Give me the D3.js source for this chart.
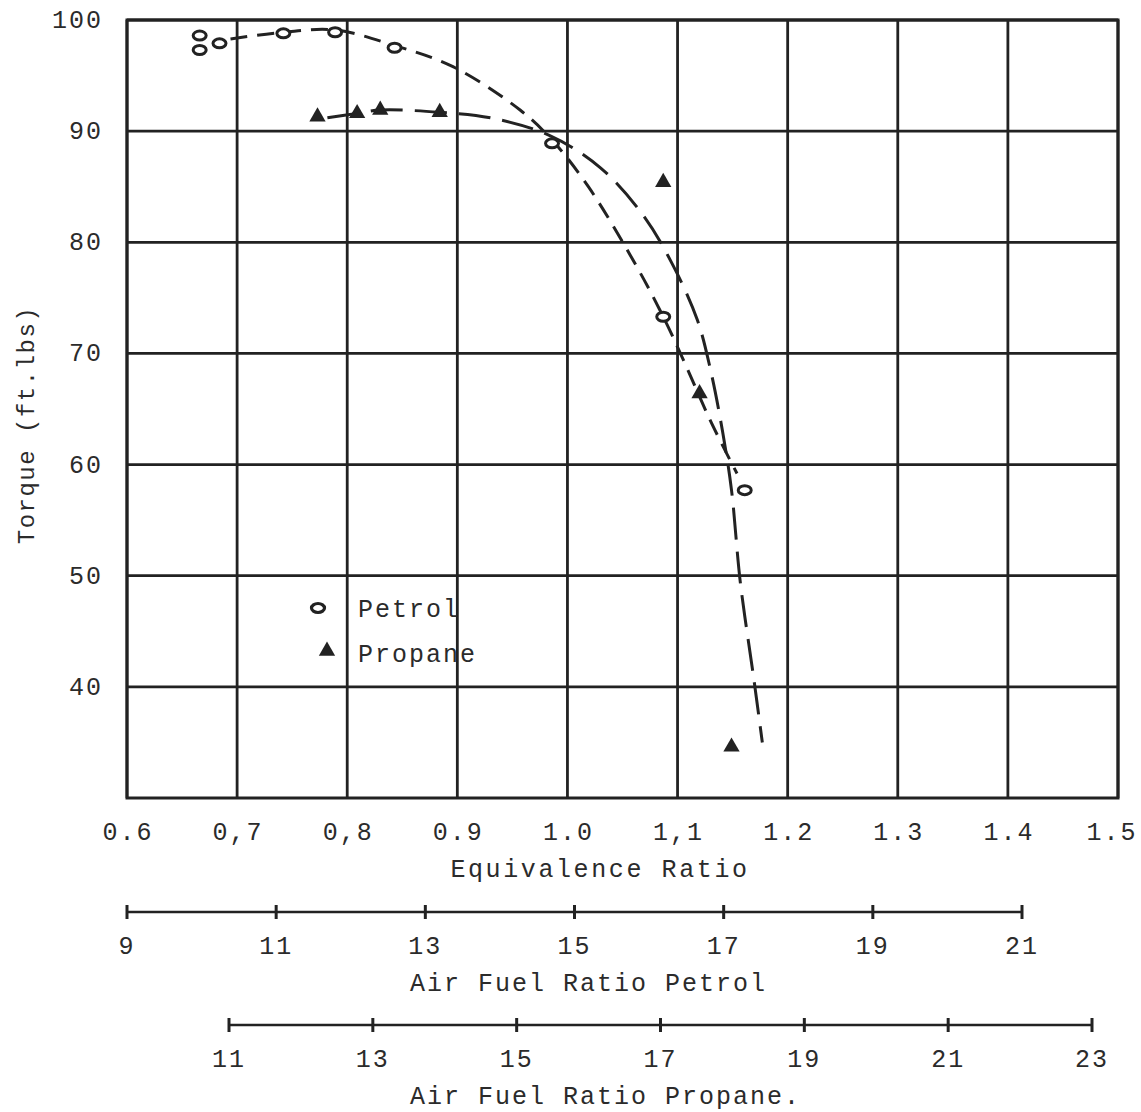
<!DOCTYPE html>
<html>
<head>
<meta charset="utf-8">
<script src="https://cdn.jsdelivr.net/npm/d3@7"></script>
<style>
	body { margin: 0; background: #fff; }
	svg text { font-family: "Liberation Mono", "DejaVu Sans Mono", monospace; fill: #2b2b2b; }
</style>
</head>
<body>
<svg id="chart" width="1141" height="1112"></svg>
<script>
// x ticks and labels (labels kept as typed on the original sheet)
var xTicks = [0.6, 0.7, 0.8, 0.9, 1.0, 1.1, 1.2, 1.3, 1.4, 1.5];
var xTickLabels = ["0.6", "0,7", "0,8", "0.9", "1.0", "1,1", "1.2", "1.3", "1.4", "1.5"];
var yTicks = [40, 50, 60, 70, 80, 90, 100];

// measured points [equivalence ratio, torque]
var petrolPoints = [[0.666, 98.6], [0.666, 97.3], [0.684, 97.9], [0.742, 98.8], [0.789, 98.9],
	[0.843, 97.5], [0.986, 88.9], [1.087, 73.3], [1.161, 57.7]];
var propanePoints = [[0.773, 91.3], [0.809, 91.6], [0.830, 91.9], [0.884, 91.7],
	[1.087, 85.4], [1.120, 66.4], [1.149, 34.6]];

// hand drawn fitted curves
var petrolCurve = [[0.694, 98.3], [0.742, 98.9], [0.789, 99.1], [0.843, 97.7], [0.896, 95.8],
	[0.957, 91.9], [0.986, 89.2], [1.019, 85.0], [1.063, 77.8], [1.087, 73.3], [1.104, 69.7],
	[1.131, 63.7], [1.154, 59.2]];
var propaneCurve = [[0.782, 91.2], [0.809, 91.6], [0.830, 91.9], [0.884, 91.7], [0.930, 91.2],
	[0.984, 89.6], [1.030, 86.7], [1.069, 82.4], [1.096, 77.9], [1.118, 73.0], [1.130, 68.5],
	[1.141, 62.9], [1.149, 57.7], [1.157, 49.4], [1.169, 40.9], [1.177, 35.0]];

// secondary air fuel ratio scales
var afrPetrolTicks = [9, 11, 13, 15, 17, 19, 21];
var afrPropaneTicks = [11, 13, 15, 17, 19, 21, 23];

var ink = "#222";
var svg = d3.select("#chart");

var x = d3.scaleLinear().domain([0.6, 1.5]).range([127, 1118]);
var y = d3.scaleLinear().domain([30, 100]).range([798, 20]);

//grid lines
svg.append("g")
	.selectAll("line")
	.data(xTicks)
	.enter().append("line")
		.attr("x1", function(d){ return x(d); })
		.attr("x2", function(d){ return x(d); })
		.attr("y1", y(100))
		.attr("y2", y(30))
		.attr("stroke", ink)
		.attr("stroke-width", 2.8);

svg.append("g")
	.selectAll("line")
	.data(yTicks)
	.enter().append("line")
		.attr("x1", x(0.6))
		.attr("x2", x(1.5))
		.attr("y1", function(d){ return y(d); })
		.attr("y2", function(d){ return y(d); })
		.attr("stroke", ink)
		.attr("stroke-width", 2.8);

//frame
svg.append("rect")
	.attr("x", x(0.6))
	.attr("y", y(100))
	.attr("width", x(1.5) - x(0.6))
	.attr("height", y(30) - y(100))
	.attr("fill", "none")
	.attr("stroke", ink)
	.attr("stroke-width", 3);

//tick labels (last one pulled in so it stays on the page)
svg.append("g")
	.selectAll("text")
	.data(xTicks)
	.enter().append("text")
		.text(function(d, i){ return xTickLabels[i]; })
		.attr("x", function(d){ return Math.min(x(d) + 1, 1112); })
		.attr("y", 840)
		.attr("text-anchor", "middle")
		.attr("font-size", "25px")
		.attr("letter-spacing", "2px");

svg.append("g")
	.selectAll("text")
	.data(yTicks)
	.enter().append("text")
		.text(function(d){ return d; })
		.attr("x", 103)
		.attr("y", function(d){ return y(d) + 8; })
		.attr("text-anchor", "end")
		.attr("font-size", "25px")
		.attr("letter-spacing", "2px");

svg.append("text")
	.text("Torque (ft.lbs)")
	.attr("transform", "translate(34,425) rotate(-90)")
	.attr("text-anchor", "middle")
	.attr("font-size", "24px")
	.attr("letter-spacing", "1.5px");

svg.append("text")
	.text("Equivalence Ratio")
	.attr("x", 600)
	.attr("y", 877)
	.attr("text-anchor", "middle")
	.attr("font-size", "25px")
	.attr("letter-spacing", "2.6px");

//fitted curves
var line = d3.line()
	.x(function(d){ return x(d[0]); })
	.y(function(d){ return y(d[1]); })
	.curve(d3.curveCatmullRom);

svg.append("path")
	.datum(petrolCurve)
	.attr("d", line)
	.attr("fill", "none")
	.attr("stroke", ink)
	.attr("stroke-width", 3)
	.attr("stroke-dasharray", "17, 10");

svg.append("path")
	.datum(propaneCurve)
	.attr("d", line)
	.attr("fill", "none")
	.attr("stroke", ink)
	.attr("stroke-width", 3)
	.attr("stroke-dasharray", "32, 12");

//markers
svg.append("g")
	.selectAll("ellipse")
	.data(petrolPoints)
	.enter().append("ellipse")
		.attr("cx", function(d){ return x(d[0]); })
		.attr("cy", function(d){ return y(d[1]); })
		.attr("rx", 6.5)
		.attr("ry", 4.5)
		.attr("fill", "#fff")
		.attr("stroke", ink)
		.attr("stroke-width", 3);

var tri = d3.symbol().type(d3.symbolTriangle).size(115);
svg.append("g")
	.selectAll("path")
	.data(propanePoints)
	.enter().append("path")
		.attr("d", tri)
		.attr("transform", function(d){ return "translate(" + x(d[0]) + "," + y(d[1]) + ")"; })
		.attr("fill", ink);

//legend
svg.append("ellipse")
	.attr("cx", 318).attr("cy", 608)
	.attr("rx", 6.5).attr("ry", 4.5)
	.attr("fill", "#fff").attr("stroke", ink).attr("stroke-width", 3.2);
svg.append("path")
	.attr("d", tri)
	.attr("transform", "translate(327,651)")
	.attr("fill", ink);
svg.append("text").text("Petrol")
	.attr("x", 358).attr("y", 617)
	.attr("font-size", "25px").attr("letter-spacing", "2px");
svg.append("text").text("Propane")
	.attr("x", 358).attr("y", 662)
	.attr("font-size", "25px").attr("letter-spacing", "2px");

//air fuel ratio scales
var drawScale = function(ticks, x0, x1, lineY, title){
	var s = d3.scaleLinear().domain([ticks[0], ticks[ticks.length - 1]]).range([x0, x1]);
	var g = svg.append("g");
	g.append("line")
		.attr("x1", s(ticks[0])).attr("x2", s(ticks[ticks.length - 1]))
		.attr("y1", lineY).attr("y2", lineY)
		.attr("stroke", ink).attr("stroke-width", 2.5);
	g.selectAll(".tk")
		.data(ticks)
		.enter().append("line")
			.attr("class", "tk")
			.attr("x1", function(d){ return s(d); })
			.attr("x2", function(d){ return s(d); })
			.attr("y1", lineY - 7)
			.attr("y2", lineY + 7)
			.attr("stroke", ink)
			.attr("stroke-width", 3);
	g.selectAll("text")
		.data(ticks)
		.enter().append("text")
			.text(function(d){ return d; })
			.attr("x", function(d){ return s(d); })
			.attr("y", lineY + 42)
			.attr("text-anchor", "middle")
			.attr("font-size", "25px")
			.attr("letter-spacing", "2px");
	svg.append("text")
		.text(title)
		.attr("x", 410)
		.attr("y", lineY + 79)
		.attr("font-size", "25px")
		.attr("letter-spacing", "2px");
};
drawScale(afrPetrolTicks, 127, 1022, 912, "Air Fuel Ratio Petrol");
drawScale(afrPropaneTicks, 229, 1092, 1025, "Air Fuel Ratio Propane.");
</script>
</body>
</html>
